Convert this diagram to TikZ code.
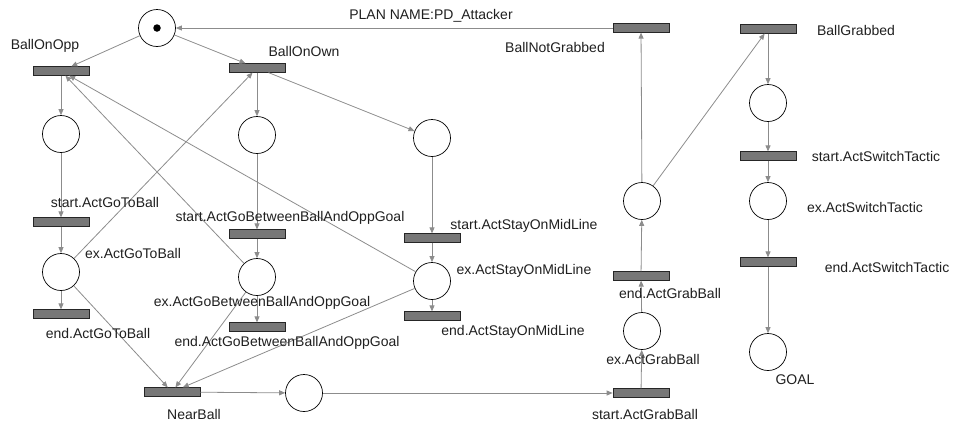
\documentclass[tikz,border=0pt]{standalone}
\usepackage{fontspec}
\setmainfont{Liberation Sans}
\usetikzlibrary{arrows.meta}
\definecolor{edgegrey}{HTML}{8C8C8C}
\definecolor{barfill}{HTML}{777777}
\begin{document}
\begin{tikzpicture}[x=1pt,y=-1pt,
  place/.style={circle,draw=black,line width=0.7pt,minimum size=37pt,inner sep=0pt,fill=white},
  trans/.style={rectangle,draw=black!85,line width=0.7pt,fill=barfill,minimum width=56pt,minimum height=8.5pt,inner sep=0pt},
  lbl/.style={font=\fontsize{14}{16}\selectfont,inner sep=0pt,text=black!88},
  flow/.style={draw=edgegrey,line width=0.8pt,-{Triangle[length=6pt,width=5pt]}},
]
\useasboundingbox (0,0) rectangle (953,426);

% places
\node[place] (start) at (157,28) {};
\node[circle,fill=black,minimum size=7.5pt,inner sep=0pt] (token) at (start) {};
\node[place] (p1) at (61,134) {};
\node[place] (p2) at (257,135) {};
\node[place] (p3) at (432,138) {};
\node[place] (exgtb) at (61,272) {};
\node[place] (exgb) at (257,277) {};
\node[place] (exsm) at (432,281) {};
\node[place] (pnb) at (304,393) {};
\node[place] (exgrab) at (642,331) {};
\node[place] (pg) at (642,201) {};
\node[place] (pbg) at (768,103) {};
\node[place] (exst) at (768,201) {};
\node[place] (goal) at (768,352) {};

% transitions
\node[trans] (bopp) at (61,71) {};
\node[trans] (bown) at (257,68) {};
\node[trans] (sgtb) at (61,222) {};
\node[trans] (egtb) at (61,314) {};
\node[trans] (sgb) at (257,234) {};
\node[trans] (egb) at (257,327) {};
\node[trans] (ssm) at (432,238) {};
\node[trans] (esm) at (432,316) {};
\node[trans] (near) at (172,392) {};
\node[trans] (sgrab) at (641,393) {};
\node[trans] (egrab) at (641,276) {};
\node[trans] (bng) at (641,28) {};
\node[trans] (bg) at (768,29) {};
\node[trans] (sst) at (768,156) {};
\node[trans] (est) at (768,262) {};

% arcs
\draw[flow] (start) -- (bopp);
\draw[flow] (start) -- (bown);
\draw[flow] (bopp) -- (p1);
\draw[flow] (bown) -- (p2);
\draw[flow] (bown) -- (p3);
\draw[flow] (p1) -- (sgtb);
\draw[flow] (sgtb) -- (exgtb);
\draw[flow] (exgtb) -- (egtb);
\draw[flow] (p2) -- (sgb);
\draw[flow] (sgb) -- (exgb);
\draw[flow] (exgb) -- (egb);
\draw[flow] (p3) -- (ssm);
\draw[flow] (ssm) -- (exsm);
\draw[flow] (exsm) -- (esm);
\draw[flow] (exgtb) -- (bown);
\draw[flow] (exgb) -- (bopp);
\draw[flow] (exsm) -- (bopp);
\draw[flow] (exgtb) -- (near);
\draw[flow] (exgb) -- (near);
\draw[flow] (exsm) -- (near);
\draw[flow] (near) -- (pnb);
\draw[flow] (pnb) -- (sgrab);
\draw[flow] (sgrab) -- (exgrab);
\draw[flow] (exgrab) -- (egrab);
\draw[flow] (egrab) -- (pg);
\draw[flow] (pg) -- (bng);
\draw[flow] (pg) -- (bg);
\draw[flow] (bng) -- (start);
\draw[flow] (bg) -- (pbg);
\draw[flow] (pbg) -- (sst);
\draw[flow] (sst) -- (exst);
\draw[flow] (exst) -- (est);
\draw[flow] (est) -- (goal);

% labels
\node[lbl] (lplan) at (431,16) {PLAN NAME:PD\_Attacker};
\node[lbl] (lbopp) at (45,46) {BallOnOpp};
\node[lbl] (lbown) at (304,51) {BallOnOwn};
\node[lbl] (lbng) at (555,47) {BallNotGrabbed};
\node[lbl] (lbg) at (856,30) {BallGrabbed};
\node[lbl] (lsgtb) at (105,202) {start.ActGoToBall};
\node[lbl] (lexgtb) at (133,253) {ex.ActGoToBall};
\node[lbl] (legtb) at (98,333) {end.ActGoToBall};
\node[lbl] (lsgb) at (290,218) {start.ActGoBetweenBallAndOppGoal};
\node[lbl] (lexgb) at (262,303) {ex.ActGoBetweenBallAndOppGoal};
\node[lbl] (legb) at (287,343) {end.ActGoBetweenBallAndOppGoal};
\node[lbl] (lssm) at (524,226) {start.ActStayOnMidLine};
\node[lbl] (lexsm) at (524,271) {ex.ActStayOnMidLine};
\node[lbl] (lesm) at (513,332) {end.ActStayOnMidLine};
\node[lbl] (lnear) at (194,414) {NearBall};
\node[lbl] (lsgrab) at (645,414) {start.ActGrabBall};
\node[lbl] (lexgrab) at (653,359) {ex.ActGrabBall};
\node[lbl] (legrab) at (670,293) {end.ActGrabBall};
\node[lbl] (lsst) at (876,156) {start.ActSwitchTactic};
\node[lbl] (lexst) at (865,207) {ex.ActSwitchTactic};
\node[lbl] (lest) at (887,267) {end.ActSwitchTactic};
\node[lbl] (lgoal) at (795,380) {GOAL};
\end{tikzpicture}
\end{document}
